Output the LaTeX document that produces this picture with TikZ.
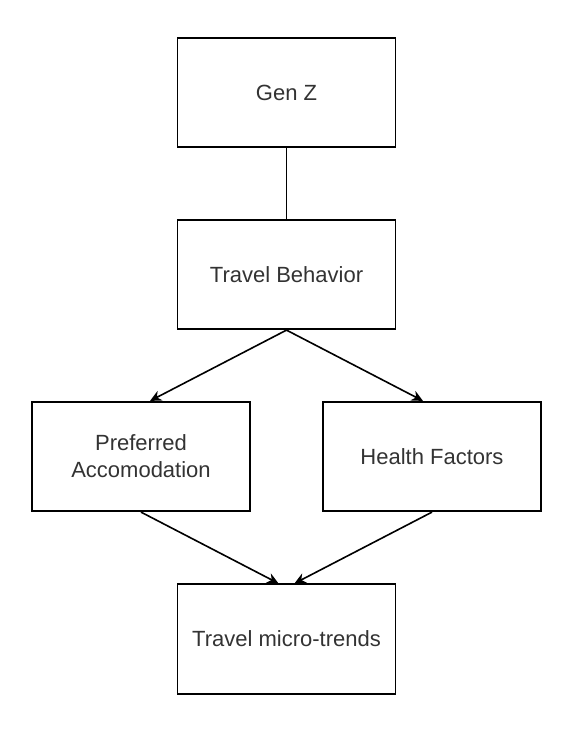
\documentclass[tikz,border=0pt]{standalone}
\usepackage{fontspec}
\setmainfont{Liberation Sans}
\usetikzlibrary{arrows.meta}
\definecolor{txt}{HTML}{333333}
\begin{document}
\begin{tikzpicture}[x=0.75pt,y=-0.75pt,
  box/.style={draw=black,line width=1.4pt,rectangle,minimum width=163.5pt,minimum height=82pt,
    inner sep=0pt,align=center,text=txt,font=\fontsize{16.5pt}{20.25pt}\selectfont},
  link/.style={line width=1.2pt,draw=black},
  arr/.style={link,-{Stealth[length=8.5pt,width=8pt]}}]
\useasboundingbox[fill=white] (0,0) rectangle (570,729);
\node[box] (genz) at (286.5,92.5) {Gen Z};
\node[box] (tb) at (286.5,274.5) {Travel Behavior};
\node[box] (pref) at (141,456.5) {Preferred\\Accomodation};
\node[box] (health) at (432,456.5) {Health Factors};
\node[box] (micro) at (286.5,639) {Travel micro-trends};
\draw[link] (genz.south) -- (tb.north);
\draw[arr] (tb.south) -- ([xshift=6.75pt]pref.north);
\draw[arr] (tb.south) -- ([xshift=-6.75pt]health.north);
\draw[arr] (pref.south) -- ([xshift=-6pt]micro.north);
\draw[arr] (health.south) -- ([xshift=6pt]micro.north);
\end{tikzpicture}
\end{document}
